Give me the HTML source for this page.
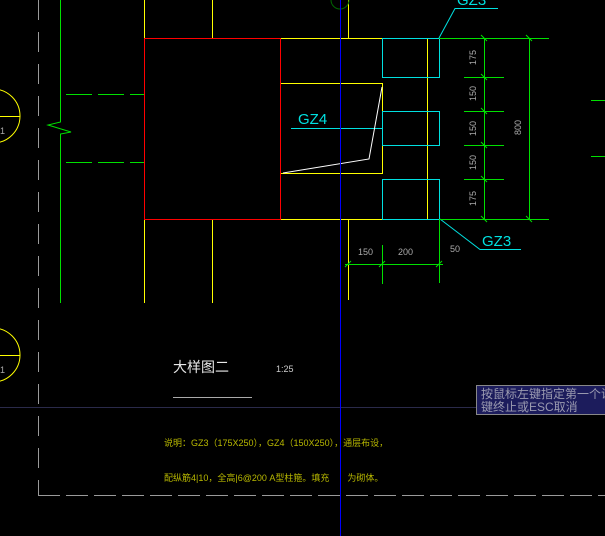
<!DOCTYPE html>
<html><head><meta charset="utf-8"><style>
html,body{margin:0;padding:0;background:#000;width:605px;height:536px;overflow:hidden}
svg{display:block}
text{font-family:"Liberation Sans","Noto Sans CJK SC",sans-serif}
</style></head><body>
<svg width="605" height="536" viewBox="0 0 605 536" xmlns="http://www.w3.org/2000/svg">
<rect width="605" height="536" fill="#000"/>
<line x1="0" y1="407.5" x2="476" y2="407.5" stroke="#2a2a4a" stroke-width="1"/>
<line x1="38.5" y1="0" x2="38.5" y2="495" stroke="#9a9a9a" stroke-dasharray="20,12"/>
<line x1="38" y1="495.5" x2="605" y2="495.5" stroke="#9a9a9a" stroke-dasharray="22,6"/>
<polyline points="60.5,0 60.5,122 48,125 71,132 60.5,134 60.5,303" fill="none" stroke="#00e000"/>
<line x1="66" y1="94.5" x2="144" y2="94.5" stroke="#00e000" stroke-dasharray="26,6"/>
<line x1="66" y1="162.5" x2="144" y2="162.5" stroke="#00e000" stroke-dasharray="26,6"/>
<circle cx="-7" cy="116" r="27" fill="none" stroke="#ffff00"/>
<line x1="0" y1="116.5" x2="20" y2="116.5" stroke="#ffff00"/>
<text x="0" y="134" font-size="9" fill="#aaa">1</text>
<circle cx="-7" cy="355" r="27" fill="none" stroke="#ffff00"/>
<line x1="0" y1="355.5" x2="20" y2="355.5" stroke="#ffff00"/>
<text x="0" y="373" font-size="9" fill="#aaa">1</text>
<g stroke="#ffff00" fill="none">
<line x1="144.5" y1="0" x2="144.5" y2="38"/><line x1="212.5" y1="0" x2="212.5" y2="38"/>
<line x1="144.5" y1="219" x2="144.5" y2="303"/><line x1="212.5" y1="219" x2="212.5" y2="303"/>
<line x1="348.5" y1="0" x2="348.5" y2="38"/><line x1="348.5" y1="219" x2="348.5" y2="300"/>
<rect x="280.5" y="38.5" width="147" height="181"/>
<rect x="280.5" y="83.5" width="102" height="90"/>
</g>
<rect x="144.5" y="38.5" width="136" height="181" fill="none" stroke="#ff0000"/>
<circle cx="340" cy="0" r="9" fill="none" stroke="#006600"/>
<g stroke="#00e0e0" fill="none">
<rect x="382.5" y="38.5" width="57" height="39"/>
<rect x="382.5" y="111.5" width="57" height="34"/>
<rect x="382.5" y="179.5" width="57" height="40"/>
<polyline points="439,38 455,8.5 498,8.5"/>
<polyline points="440,219 480,249.5 521,249.5"/>
<line x1="291" y1="128.5" x2="382" y2="128.5"/>
</g>
<polyline points="283,173 369,159 382,87" fill="none" stroke="#fff"/>
<text x="298" y="124" font-size="15" fill="#00e0e0">GZ4</text>
<text x="457" y="5" font-size="15" fill="#00e0e0">GZ3</text>
<text x="482" y="246" font-size="15" fill="#00e0e0">GZ3</text>
<g stroke="#00e000" fill="none">
<line x1="439" y1="38.5" x2="549" y2="38.5"/><line x1="439" y1="219.5" x2="549" y2="219.5"/>
<line x1="484.5" y1="38" x2="484.5" y2="219"/><line x1="529.5" y1="38" x2="529.5" y2="219"/>
<line x1="464" y1="77.5" x2="504" y2="77.5"/><line x1="464" y1="111.5" x2="504" y2="111.5"/>
<line x1="464" y1="145.5" x2="504" y2="145.5"/><line x1="464" y1="179.5" x2="504" y2="179.5"/>
<line x1="591" y1="100.5" x2="605" y2="100.5"/><line x1="591" y1="156.5" x2="605" y2="156.5"/>
<line x1="345" y1="264.5" x2="443" y2="264.5"/>
<line x1="382.5" y1="245" x2="382.5" y2="284"/><line x1="439.5" y1="219" x2="439.5" y2="283"/>
<path d="M481,35 l6,6 M481,74 l6,6 M481,108 l6,6 M481,142 l6,6 M481,176 l6,6 M481,216 l6,6 M526,35 l6,6 M526,216 l6,6 M345,267 l6,-6 M379,267 l6,-6 M436,267 l6,-6"/>
</g>
<line x1="340.5" y1="0" x2="340.5" y2="536" stroke="#0000ff"/>
<g font-size="9" fill="#aaa">
<text transform="translate(476,65) rotate(-90)">175</text>
<text transform="translate(476,101) rotate(-90)">150</text>
<text transform="translate(476,136) rotate(-90)">150</text>
<text transform="translate(476,170) rotate(-90)">150</text>
<text transform="translate(476,206) rotate(-90)">175</text>
<text transform="translate(521,135) rotate(-90)">800</text>
<text x="358" y="255">150</text>
<text x="398" y="255">200</text>
<text x="450" y="252">50</text>
</g>
<text x="173" y="372" font-size="14" fill="#e8e8e8">大样图二</text>
<text x="276" y="372" font-size="9" fill="#ccc">1:25</text>
<line x1="173" y1="397.5" x2="252" y2="397.5" stroke="#aaa"/>
<text x="164" y="446" font-size="9" fill="#b8b800">说明：GZ3（175X250），GZ4（150X250），通层布设，</text>
<text x="164" y="481" font-size="9" fill="#b8b800">配纵筋4|10，全高|6@200 A型柱箍。填充　　为砌体。</text>
<rect x="476.5" y="385.5" width="130" height="29" fill="#1c1c5c" stroke="#888"/>
<text x="481" y="398" font-size="12" fill="#9a9ab0">按鼠标左键指定第一个说</text>
<text x="481" y="411" font-size="12" fill="#9a9ab0">键终止或ESC取消</text>
</svg>
</body></html>
